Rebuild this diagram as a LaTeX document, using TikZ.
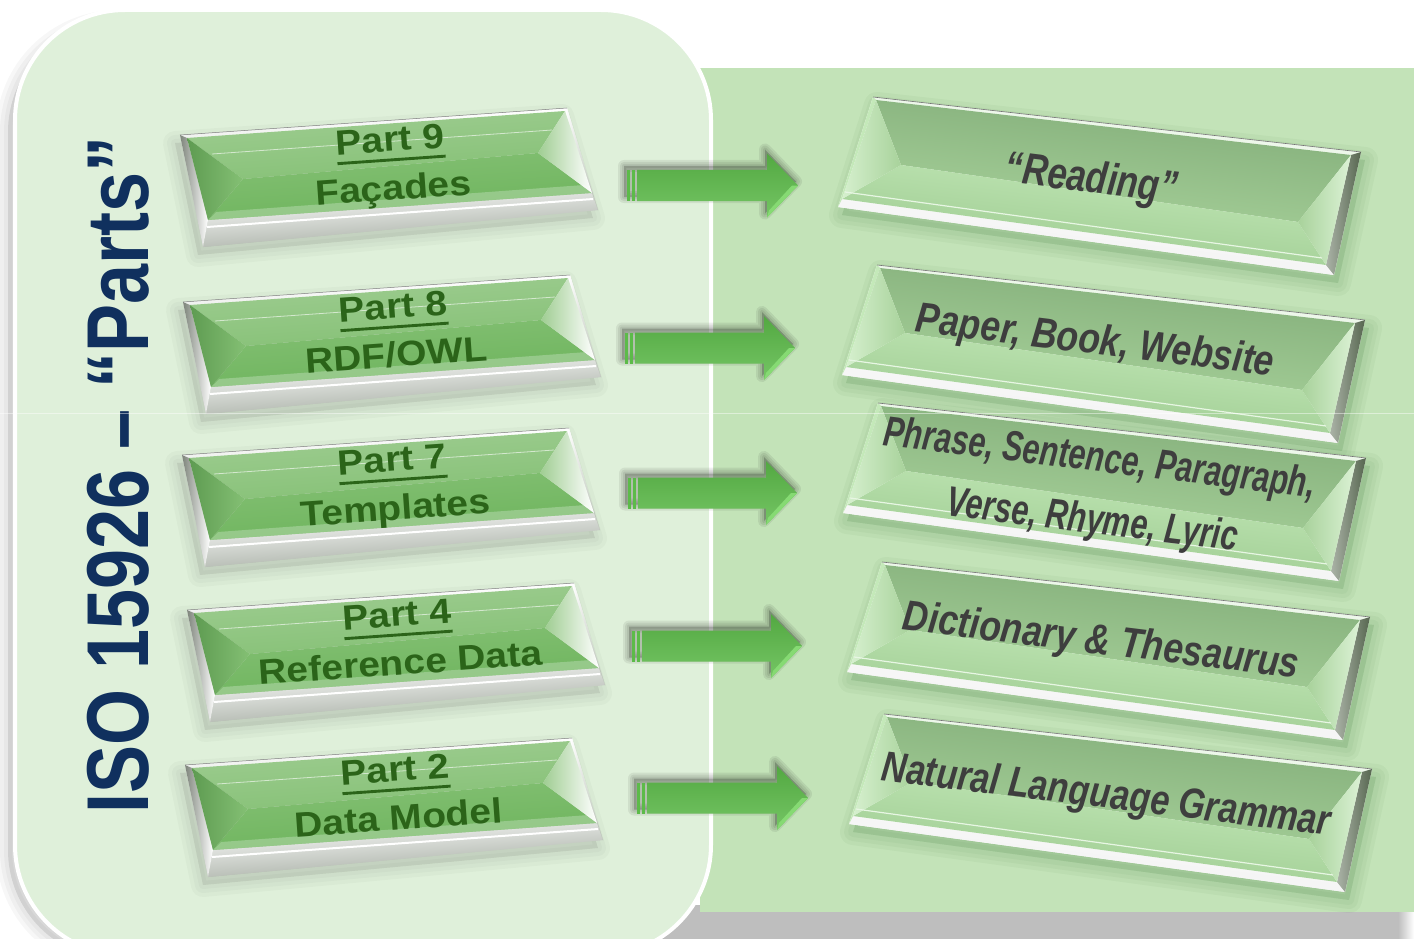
\documentclass[tikz,border=0pt]{standalone}
\usepackage{fontspec}
\setmainfont{Liberation Sans}
\usepackage{graphicx}
\usetikzlibrary{calc}
\definecolor{leftbg}{HTML}{DFF0DA}
\definecolor{rightbg}{HTML}{C3E3B8}
\definecolor{navy}{HTML}{10305E}
\definecolor{dkgreen}{HTML}{2B6419}
\definecolor{txtgrey}{HTML}{3E3E3E}
\definecolor{arrowgreen}{HTML}{5CBB49}
\definecolor{arrowlight}{HTML}{86DA73}
\definecolor{shadowgrey}{HTML}{BEBEBE}
\definecolor{slabgrey}{HTML}{B4BEB0}
\definecolor{lfacetop}{HTML}{9FCD92}
\definecolor{lfacemid}{HTML}{84C074}
\definecolor{lfacebot}{HTML}{6BB35A}
\definecolor{lwedge}{HTML}{5E9B51}
\definecolor{rfacetop}{HTML}{80AB77}
\definecolor{rfacemid}{HTML}{A8D29B}
\definecolor{rfacelow}{HTML}{C4E9B9}
\definecolor{rfacebot}{HTML}{98C78B}
\definecolor{rrim}{HTML}{56664F}

\newcommand\ulbox[1]{\setbox0\hbox{#1}\rlap{\rule[-11pt]{\wd0}{3.2pt}}\box0}

\newcommand\leftslab[5]{%
\begin{scope}[shift={(#1,#2)}]
 \foreach \w in {24,16,8}
   \filldraw[black,opacity=0.025,line width=\w,line join=round] (-5,8) -- (382,-19) -- (413,83) -- (18,120) -- cycle;
 \shade[top color=white, bottom color=slabgrey] (0,0) -- (387,-27) -- (418,75) -- (23,112) -- cycle;
 \shade[top color=white, bottom color=slabgrey!85!black, shading angle=4] (28,85) -- (412,58) -- (418,75) -- (23,112) -- cycle;
 \draw[white, line width=2] (27,92) -- (413,64);
 \shade[left color=slabgrey!70!black, right color=white] (0,0) -- (7,3) -- (28,85) -- (23,112) -- cycle;
 \shade[left color=white, right color=slabgrey] (385,-24) -- (387,-27) -- (418,75) -- (412,58) -- cycle;
 \shade[top color=lfacetop, bottom color=lfacemid, shading angle=4] (7,3) -- (385,-24) -- (358,18) -- (63,44) -- cycle;
 \shade[top color=lfacemid, bottom color=lfacebot, shading angle=4] (63,44) -- (358,18) -- (412,58) -- (28,85) -- cycle;
 \shade[left color=lwedge, right color=lfacemid] (7,3) -- (63,44) -- (28,85) -- cycle;
 \shade[left color=lfacetop, right color=white] (385,-24) -- (412,58) -- (358,18) -- cycle;
 \draw[white, opacity=0.6, line width=0.8] (32,19) -- (372,-5);
 \fill[white, opacity=0.25] (28,85) -- (412,58) -- (404,50) -- (36,77) -- cycle;
 \draw[black!50, line width=0.5] (0,0) -- (387,-27);
 \node[lefttext] (#3) at (212,31) {\scalebox{1}[0.9]{\begin{tabular}{@{}c@{}}\ulbox{#4}\\#5\end{tabular}}};
\end{scope}}

\newcommand\rightslab[2]{%
\begin{scope}[shift={(#1,#2)}]
 \foreach \w in {26,18,10}
   \filldraw[black!70!green,opacity=0.035,line width=\w,line join=round] (4,8) -- (492,63) -- (465,186) -- (-31,118) -- cycle;
 \fill[white!90!rightbg] (0,0) -- (488,55) -- (461,178) -- (-35,110) -- cycle;
 \shade[top color=white, bottom color=white!85!gray, shading angle=-7] (-31,102) -- (453,168) -- (461,178) -- (-35,110) -- cycle;
 \fill[white!70!rightbg] (0,0) -- (488,55) -- (478,58) -- (3,3) -- cycle;
 \shade[left color=rrim!50!white, right color=rrim] (478,58) -- (488,55) -- (461,178) -- (453,168) -- cycle;
 \fill[rfacelow] (0,0) -- (3,3) -- (-31,102) -- (-35,110) -- cycle;
 \shade[top color=rfacetop, bottom color=rfacemid, shading angle=-7] (3,3) -- (478,58) -- (425,125) -- (28,68) -- cycle;
 \shade[top color=rfacelow, bottom color=rfacebot, shading angle=-7] (28,68) -- (425,125) -- (453,168) -- (-31,102) -- cycle;
 \shade[left color=rfacelow!70!white, right color=rfacemid] (3,3) -- (28,68) -- (-31,102) -- cycle;
 \shade[left color=rfacemid, right color=rfacelow!60!white] (478,58) -- (453,168) -- (425,125) -- cycle;
 \draw[white!60!rfacelow, line width=1.2] (-28,95) -- (449,161);
 \draw[black!55, line width=0.6] (0,0) -- (488,55);
\end{scope}}

\newcommand\greenarrow[4]{%
 \coordinate (#1s) at (#2,#4);
 \coordinate (#1e) at (#3,#4);
 \foreach \w in {12,8,4}
   \filldraw[black,opacity=0.07,line width=\w,line join=round] ($(#1s)+(-3,-19.5)$) -- ($(#1e)+(-33,-19.5)$) -- ($(#1e)+(-33,-36)$) -- ($(#1e)+(-2,-4)$) -- ($(#1e)+(-33,28)$) -- ($(#1e)+(-33,11.5)$) -- ($(#1s)+(-3,11.5)$) -- cycle;
 \fill[arrowgreen] ($(#1s)+(0,-15.5)$) rectangle ($(#1s)+(3,15.5)$);
 \fill[arrowgreen] ($(#1s)+(5,-15.5)$) rectangle ($(#1s)+(7.5,15.5)$);
 \shade[top color=arrowgreen!90!black, bottom color=arrowgreen!85!white] ($(#1s)+(10,-15.5)$) -- ($(#1e)+(-31,-15.5)$) -- ($(#1e)+(-31,-32)$) -- (#1e) -- ($(#1e)+(-31,32)$) -- ($(#1e)+(-31,15.5)$) -- ($(#1s)+(10,15.5)$) -- cycle;
 \fill[arrowlight] (#1e) -- ($(#1e)+(-31,32)$) -- ($(#1e)+(-29,25)$) -- ($(#1e)+(-6,0)$) -- cycle;
}

\begin{document}
\begin{tikzpicture}[x=1pt,y=-1pt,
  lefttext/.style={rotate=4, text=dkgreen, font=\fontsize{39}{54}\selectfont\bfseries, inner sep=0pt},
  righttext/.style={rotate=-7, text=txtgrey, font=\bfseries\itshape, inner sep=0pt},
  titletext/.style={rotate=90, text=navy, font=\fontsize{72}{76}\selectfont\bfseries, inner sep=0pt}]
\useasboundingbox (0,0) rectangle (1414,939);
\clip (0,0) rectangle (1414,939);
\fill[white] (0,0) rectangle (1414,939);
% right panel and its shadow
\fill[shadowgrey] (640,905) rectangle (1398,939);
\shade[left color=shadowgrey, right color=white] (1398,905) rectangle (1414,939);
\fill[rightbg] (700,68) rectangle (1414,912);
% left panel and its shadow
\foreach \w in {24,16,8}
  \filldraw[black,opacity=0.03,line width=\w,rounded corners=110] (8,22) rectangle (690,960);
\filldraw[fill=leftbg, draw=white, line width=4, rounded corners=110] (15,10) rectangle (711,955);
% title
\node[titletext] (title) at (118,475) {\scalebox{1}[1.22]{ISO 15926 – “Parts”}};
% left slabs
\leftslab{180}{135}{p9}{Part 9}{Façades}
\leftslab{183}{302}{p8}{Part 8}{RDF/OWL}
\leftslab{182}{455}{p7}{Part 7}{Templates}
\leftslab{187}{610}{p4}{Part 4}{Reference Data}
\leftslab{185}{765}{p2}{Part 2}{Data Model}
% arrows
\greenarrow{a1}{627}{798}{185.5}
\greenarrow{a2}{625}{795}{348}
\greenarrow{a3}{628}{797}{493}
\greenarrow{a4}{632}{802}{646}
\greenarrow{a5}{637}{808}{798}
% right slabs
\rightslab{873}{97}
\rightslab{877}{265}
\rightslab{878}{403}
\rightslab{882}{562}
\rightslab{884}{714}
\node[righttext] (r1) at (1091,181) {\fontsize{35}{40}\selectfont\scalebox{1}[1.27]{“Reading”}};
\node[righttext] (r2) at (1095,343) {\fontsize{35.5}{40}\selectfont\scalebox{1}[1.2]{Paper, Book, Website}};
\node[righttext] (r3) at (1096,490) {\fontsize{30.8}{45}\selectfont\scalebox{1}[1.38]{\begin{tabular}{@{}c@{}}Phrase, Sentence, Paragraph,\\Verse, Rhyme, Lyric\end{tabular}}};
\node[righttext] (r4) at (1101,643) {\fontsize{35.5}{40}\selectfont\scalebox{1}[1.2]{Dictionary \& Thesaurus}};
\node[righttext] (r5) at (1106,797) {\fontsize{34.3}{40}\selectfont\scalebox{1}[1.24]{Natural Language Grammar}};
% faint horizontal line
\draw[white, opacity=0.45, line width=1] (0,413) -- (1414,413);
\end{tikzpicture}
\end{document}
